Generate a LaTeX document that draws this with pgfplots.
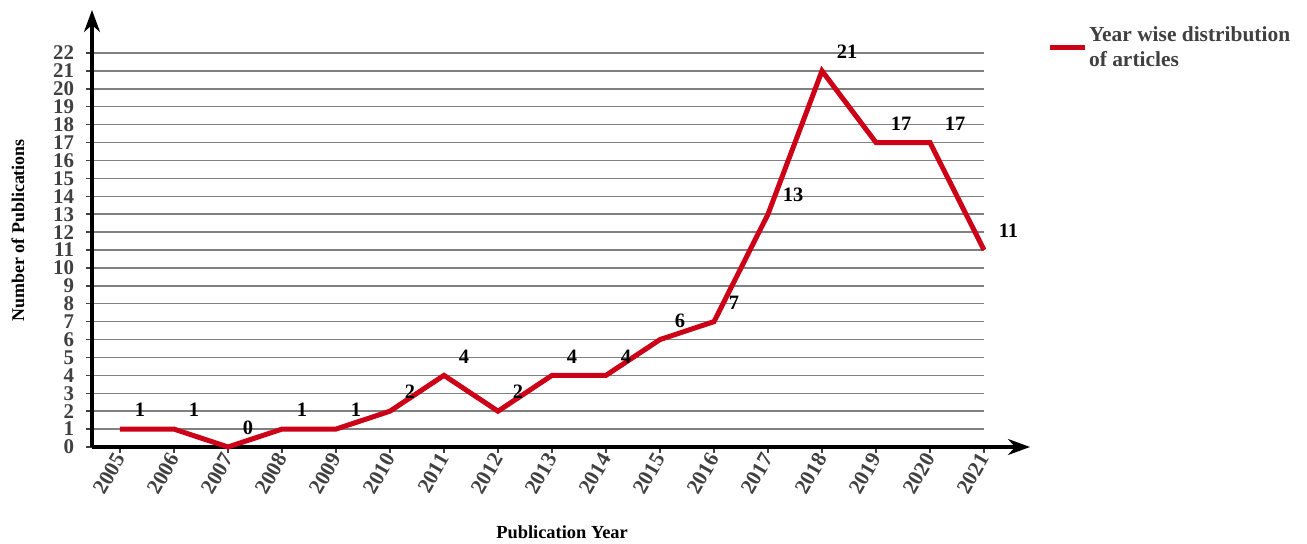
\documentclass[border=0pt]{standalone}
\usepackage{pgfplots}
\pgfplotsset{compat=1.18}
\usepackage{fontspec}
\setmainfont{Liberation Serif}
\usetikzlibrary{arrows.meta}
\definecolor{linered}{RGB}{204,0,22}
\definecolor{tickgray}{RGB}{64,64,64}
\begin{document}
\begin{tikzpicture}
\useasboundingbox (0,0) rectangle (1307bp,544bp);
\begin{axis}[
  at={(92bp,97bp)}, anchor=south west,
  scale only axis, width=892bp, height=394bp,
  xmin=2004.4815, xmax=2021, ymin=0, ymax=22,
  axis x line=bottom, axis y line=left,
  x axis line style={line width=3bp, -{Stealth[length=22bp,width=16bp,inset=7bp]}, shorten >=-46bp},
  y axis line style={line width=3bp, -{Stealth[length=22bp,width=16bp,inset=7bp]}, shorten >=-43bp},
  xtick={2005,...,2021}, ytick={0,...,22},
  tick align=outside, major tick length=6bp,
  tick style={line width=1.5bp, color=tickgray},
  ymajorgrids, major grid style={line width=1.5bp, color=gray},
  /pgf/number format/assume math mode=true,
  xticklabel style={/pgf/number format/1000 sep=, rotate=60, anchor=east, font=\fontsize{21.5}{21.5}\selectfont\bfseries, text=tickgray, inner sep=0.5bp, xshift=-1bp, yshift=-1bp},
  yticklabel style={font=\fontsize{21}{21}\selectfont\bfseries, text=tickgray, inner sep=0.3bp, xshift=-11.5bp},
  xlabel={Publication Year}, ylabel={Number of Publications},
  xlabel style={at={(axis description cs:0.527,-0.216)}, anchor=center, font=\fontsize{18.5}{18.5}\selectfont\bfseries},
  ylabel style={at={(axis description cs:-0.083,0.55)}, anchor=center, font=\fontsize{18}{18}\selectfont\bfseries},
  clip=false,
  legend style={at={(axis description cs:1.0705,1.072)}, anchor=north west, draw=none, fill=none,
    font=\fontsize{21.5}{25}\selectfont\bfseries, text=tickgray, inner sep=0pt, nodes={align=left}},
  legend cell align=left,
  legend image code/.code={\draw[#1, line width=5bp] (0bp,0bp) -- (35bp,0bp);},
  nodes near coords,
  every node near coord/.append style={anchor=west, xshift=9bp, yshift=19bp, font=\fontsize{20.5}{20.5}\selectfont\bfseries, text=black},
  point meta=explicit symbolic,
]
\addplot[color=linered, line width=5bp, mark=none] table[meta=y] {
x y
2005 1
2006 1
2007 0
2008 1
2009 1
2010 2
2011 4
2012 2
2013 4
2014 4
2015 6
2016 7
2017 13
2018 21
2019 17
2020 17
2021 11
};
\addlegendentry{Year wise distribution\\of articles}
\end{axis}
\end{tikzpicture}
\end{document}
